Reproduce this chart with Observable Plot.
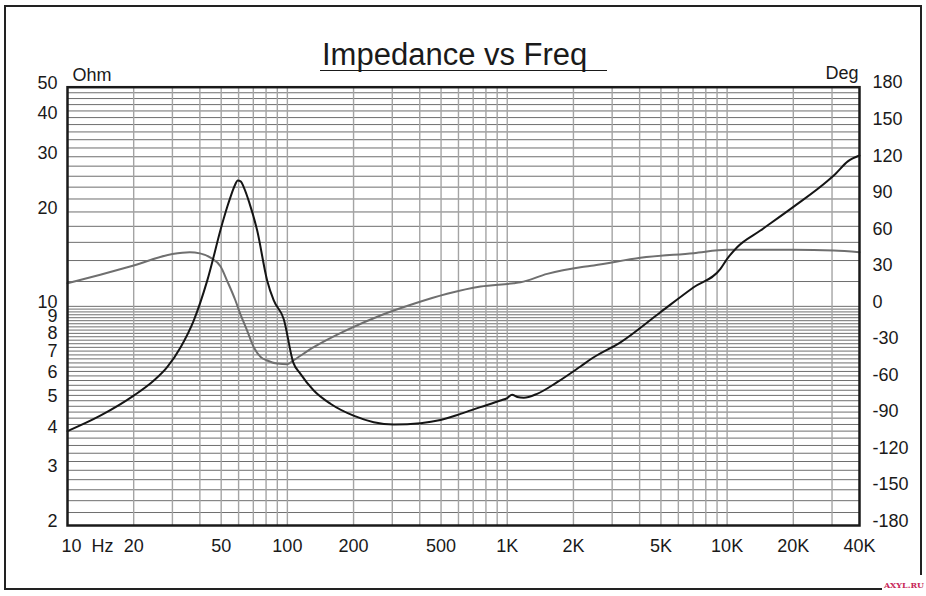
<!DOCTYPE html>
<html>
<head>
<meta charset="utf-8">
<script src="https://cdn.jsdelivr.net/npm/d3@7"></script>
<script src="https://cdn.jsdelivr.net/npm/@observablehq/plot@0.6"></script>
<style>
  html, body { margin: 0; padding: 0; background: #fff; }
  body { width: 926px; height: 596px; position: relative; overflow: hidden; font-family: "Liberation Sans", Arial, sans-serif; }
  #chart svg { position: absolute; left: 0; top: 0; }
  #outer { position: absolute; left: 4px; top: 5px; width: 918px; height: 584.5px; box-sizing: border-box; border: 2.5px solid #222; }
  #title { position: absolute; left: 320px; top: 40px; width: 285px; height: 30px; line-height: 30px; font-size: 31px; color: #1a1a1a; border-bottom: 1.6px solid #1a1a1a; padding-left: 2px; box-sizing: content-box; white-space: nowrap; }
  #wm { position: absolute; left: 882px; top: 575px; width: 44px; height: 21px; background: #fff; color: #c8285a; font: bold 8px "DejaVu Serif", serif; line-height: 21px; text-align: center; }
</style>
</head>
<body>
<div id="outer"></div>
<div id="chart"></div>
<div id="title">Impedance vs Freq</div>
<div id="wm">AXYL.RU</div>
<script>
// Impedance magnitude (Ohm) vs frequency (Hz)
const freqZ = [10, 14.1, 20, 24.7, 28.4, 32.7, 37.5, 43.2, 50.5, 53.2, 55.1, 57.5, 59.5, 61.5, 63.3, 67, 72.9, 80.9, 86.7, 96.3, 106.3, 114.7, 131.8, 157, 200, 247, 305, 403, 497, 613, 755, 931, 1000, 1052, 1110, 1189, 1367, 1687, 2153, 2473, 3273, 4973, 7047, 9323, 10000, 11104, 14170, 20090, 28500, 31080, 35390, 40000];
const impedance = [4.0, 4.48, 5.19, 5.80, 6.40, 7.41, 9.01, 12.08, 18.3, 20.7, 22.3, 24.2, 25.2, 25.0, 24.0, 21.5, 17.45, 12.1, 10.44, 9.1, 6.63, 6.09, 5.39, 4.89, 4.48, 4.27, 4.20, 4.24, 4.34, 4.54, 4.77, 5.01, 5.10, 5.22, 5.14, 5.11, 5.26, 5.73, 6.43, 6.88, 7.68, 9.58, 11.51, 13.17, 14.17, 15.44, 17.45, 20.8, 25.06, 26.45, 29.0, 30.27];

// Phase (deg) vs frequency (Hz)
const freqPhase = [10, 14.1, 20, 30, 36, 40, 44.7, 49.7, 53.2, 58, 61, 65, 70.3, 75.5, 80.9, 90, 100, 106.3, 131.8, 187, 265, 376, 533, 755, 1070, 1150, 1519, 2153, 2473, 4034, 7047, 10000, 20090, 30520, 40000];
const phase = [19, 26, 33.6, 43, 44.5, 43.5, 40, 32.7, 21, 5, -6, -18, -33.5, -41.5, -44.5, -47, -47.5, -44.5, -33.5, -19.3, -7.5, 2.1, 10.3, 16.3, 19, 19.8, 26.7, 32.2, 33.6, 39.9, 43.7, 46.4, 46.4, 45.8, 44.5];

// Tick labels
const xTicks = [20, 50, 100, 200, 500, 1000, 2000, 5000, 10000, 20000, 40000];
const xTickLabels = ["20", "50", "100", "200", "500", "1K", "2K", "5K", "10K", "20K", "40K"];
const xFirstTick = [10];
const xFirstLabel = ["10\u00a0\u00a0Hz"];
const ohmTicks = [50, 40, 30, 20, 10, 9, 8, 7, 6, 5, 4, 3, 2];
const degTicks = [180, 150, 120, 90, 60, 30, 0, -30, -60, -90, -120, -150, -180];

// Grid definitions
const xGrid = [20,30,40,50,60,70,80,90,100,200,300,400,500,600,700,800,900,1000,2000,3000,4000,5000,6000,7000,8000,9000,10000,20000,30000];
const yGrid = d3.range(11, 50, 1).map(i => i * 0.2).concat(d3.range(5, 25).map(i => i * 2));

// Right axis: phase -180..180 mapped linearly onto the log impedance span 2..50
const zMin = 2, zMax = 50;
const phaseToZ = p => zMin * Math.pow(zMax / zMin, (p + 180) / 360);

const zData = freqZ.map((f, i) => ({f, z: impedance[i]}));
const pData = freqPhase.map((f, i) => ({f, p: phase[i]}));

const font = "Liberation Sans, Arial, sans-serif";

const chart = Plot.plot({
  width: 926,
  height: 596,
  marginLeft: 67,
  marginRight: 67,
  marginTop: 86.7,
  marginBottom: 71,
  style: {fontFamily: font, color: "#1a1a1a", background: "transparent"},
  x: {type: "log", domain: [10, 40000], label: null, axis: null},
  y: {type: "log", domain: [zMin, zMax], label: null, axis: null},
  marks: [
    Plot.gridY(yGrid, {stroke: "#6e6e6e", strokeOpacity: 1, strokeWidth: 1}),
    Plot.gridX(xGrid, {stroke: "#a4a4a4", strokeOpacity: 1, strokeWidth: 1.4}),
    Plot.line(pData, {x: "f", y: d => phaseToZ(d.p), stroke: "#6f6f6f", strokeWidth: 2, curve: "monotone-x"}),
    Plot.line(zData, {x: "f", y: "z", stroke: "#151515", strokeWidth: 2, curve: "monotone-x"}),
    Plot.frame({stroke: "#1a1a1a", strokeWidth: 2.5}),
    // bottom frequency labels
    Plot.text(xTicks, {x: d => d, text: (d, i) => xTickLabels[i], frameAnchor: "bottom", lineAnchor: "top", dy: 14, fontSize: 18, fill: "#1a1a1a"}),
    Plot.text(xFirstTick, {x: d => d, text: (d, i) => xFirstLabel[i], frameAnchor: "bottom", lineAnchor: "top", textAnchor: "start", dx: -6, dy: 14, fontSize: 18, fill: "#1a1a1a"}),
    // left impedance labels
    Plot.text(ohmTicks, {y: d => d, text: d => String(d), frameAnchor: "left", textAnchor: "end", lineAnchor: "middle", dx: -10, dy: -4, fontSize: 18, fill: "#1a1a1a"}),
    // right phase labels
    Plot.text(degTicks, {y: d => phaseToZ(d), text: d => String(d), frameAnchor: "right", textAnchor: "start", lineAnchor: "middle", dx: 13, dy: -4.5, fontSize: 18, fill: "#1a1a1a"}),
    Plot.text(["Ohm"], {text: d => d, frameAnchor: "top-left", dx: 5, dy: -12, textAnchor: "start", lineAnchor: "middle", fontSize: 18, fill: "#1a1a1a"}),
    Plot.text(["Deg"], {text: d => d, frameAnchor: "top-right", dx: -1, dy: -14, textAnchor: "end", lineAnchor: "middle", fontSize: 18, fill: "#1a1a1a"})
  ]
});
document.getElementById("chart").appendChild(chart);
</script>
</body>
</html>
